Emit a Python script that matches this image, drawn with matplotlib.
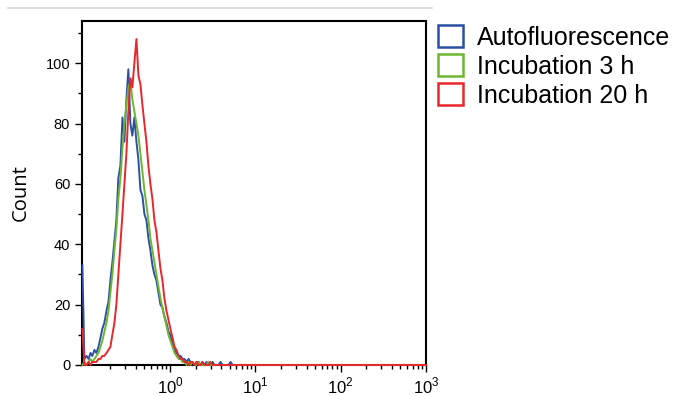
import math
import matplotlib
matplotlib.use('Agg')
import matplotlib.pyplot as plt
import matplotlib.ticker as ticker
from matplotlib.patches import Patch
from matplotlib.lines import Line2D

# Fluorescence bin centres (log spaced) and counts
bins = [0.094, 0.0992, 0.105, 0.111, 0.117, 0.123, 0.130, 0.137, 0.145, 0.153,
        0.161, 0.170, 0.180, 0.190, 0.200, 0.211, 0.223, 0.235, 0.248, 0.262,
        0.277, 0.292, 0.308, 0.325, 0.343, 0.362, 0.382, 0.404, 0.426, 0.450,
        0.475, 0.501, 0.529, 0.558, 0.589, 0.622, 0.656, 0.693, 0.731, 0.772,
        0.815, 0.860, 0.908, 0.958, 1.01, 1.07, 1.13, 1.19, 1.26, 1.33,
        1.40, 1.48, 1.56, 1.65, 1.74, 1.83, 1.94, 2.04, 2.16, 2.28,
        2.40, 2.54, 2.68, 2.83, 2.98, 3.15, 3.32, 3.51, 3.70, 3.91,
        4.13, 4.36, 4.60, 4.85, 5.12, 5.41, 5.71, 6.02, 6.36, 6.71,
        7.08, 7.48, 7.89, 8.33, 8.79,
        12, 20, 40, 80, 150, 300, 600, 1000]

auto = [33, 2, 3, 2, 4, 3, 5, 4, 6, 9,
        12, 14, 18, 21, 28, 34, 41, 48, 62, 66,
        82, 74, 88, 98, 80, 76, 82, 74, 68, 58,
        56, 50, 48, 42, 38, 33, 30, 28, 24, 20,
        19, 16, 14, 11, 10, 7, 5, 4, 3, 3,
        2, 2, 1, 2, 1, 1, 0, 1, 1, 0,
        1, 0, 1, 0, 0, 1, 0, 0, 0, 1,
        0, 0, 0, 0, 1, 0, 0, 0, 0, 0,
        0, 0, 0, 0, 0,
        0, 0, 0, 0, 0, 0, 0, 0]

inc_3h = [0, 1, 0, 1, 2, 1, 2, 3, 4, 6,
          8, 11, 14, 18, 24, 30, 38, 45, 55, 62,
          72, 80, 86, 92, 94, 88, 84, 80, 76, 70,
          64, 58, 53, 48, 42, 38, 34, 30, 26, 22,
          19, 16, 13, 10, 8, 6, 4, 3, 2, 2,
          1, 1, 0, 1, 0, 1, 0, 0, 1, 0,
          0, 0, 0, 1, 0, 0, 0, 0, 0, 0,
          0, 0, 0, 0, 0, 0, 0, 0, 0, 0,
          0, 0, 0, 0, 0,
          0, 0, 0, 0, 0, 0, 0, 0]

inc_20h = [12, 0, 0, 1, 0, 1, 1, 1, 2, 2,
           3, 3, 4, 5, 6, 10, 14, 20, 30, 40,
           50, 60, 70, 84, 95, 92, 100, 108, 96, 93,
           86, 80, 74, 66, 60, 55, 48, 44, 38, 32,
           28, 22, 18, 15, 12, 9, 6, 5, 3, 2,
           2, 1, 1, 0, 1, 1, 0, 1, 0, 0,
           1, 0, 0, 0, 1, 0, 0, 0, 0, 0,
           0, 0, 0, 0, 0, 0, 0, 0, 0, 0,
           0, 0, 0, 0, 0,
           0, 0, 0, 0, 0, 0, 0, 0]

labels = ['Autofluorescence', 'Incubation 3 h', 'Incubation 20 h']
colors = ['#2b50a5', '#6cb630', '#e8262b']

plt.rcParams['font.family'] = ['Liberation Sans', 'DejaVu Sans']
plt.rcParams['mathtext.fontset'] = 'custom'
plt.rcParams['mathtext.rm'] = 'Liberation Sans'

fig = plt.figure(figsize=(6.8, 3.96), dpi=100)
ax = fig.add_axes([0.1206, 0.0783, 0.5059, 0.8687])

for vals, col in zip([auto, inc_3h, inc_20h], colors):
    ax.plot(bins, vals, color=col, linewidth=1.4, clip_on=False, zorder=3)

ax.set_xscale('log')
ax.set_xlim(0.093, 1000)
ax.set_ylim(0, 114)

ax.xaxis.set_major_locator(ticker.FixedLocator([1, 10, 100, 1000]))
ax.xaxis.set_major_formatter(ticker.FuncFormatter(lambda v, pos: r'$10^{%d}$' % round(math.log10(v))))
ax.xaxis.set_minor_locator(ticker.LogLocator(base=10, subs=range(2, 10), numticks=20))
ax.xaxis.set_minor_formatter(ticker.NullFormatter())
ax.yaxis.set_major_locator(ticker.MultipleLocator(20))
ax.yaxis.set_minor_locator(ticker.MultipleLocator(10))

ax.tick_params(axis='both', which='major', direction='out', length=5, width=1, colors='black')
ax.tick_params(axis='both', which='minor', direction='out', length=3, width=1)
ax.tick_params(axis='y', labelsize=10.5)
ax.tick_params(axis='x', labelsize=12, pad=3)

for sp in ax.spines.values():
    sp.set_linewidth(1.5)
    sp.set_color('black')

ax.set_ylabel('Count', fontsize=14.5, family=['Open Sans', 'DejaVu Sans'])
ax.yaxis.set_label_coords(-0.15, 0.5)

# thin gray rule across the top
fig.add_artist(Line2D([8 / 680, 432 / 680], [1 - 8 / 396, 1 - 8 / 396], color='#d9d9d9', linewidth=1.2))

handles = [Patch(facecolor='none', edgecolor=c, linewidth=1.8) for c in colors]
fig.legend(handles, labels, loc='upper left', bbox_to_anchor=(438 / 680, 1 - 25 / 396),
           frameon=False, fontsize=18, handlelength=1.0, handleheight=1.0,
           handletextpad=0.55, labelspacing=0.17, borderaxespad=0, borderpad=0)

plt.savefig('out.png', dpi=100)
